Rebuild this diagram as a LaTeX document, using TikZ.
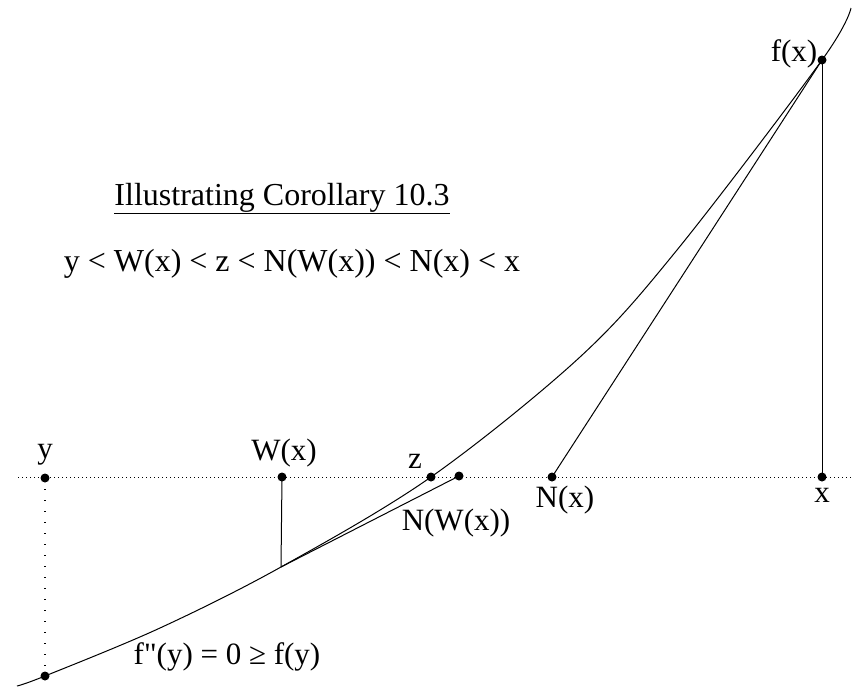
\documentclass[tikz,border=0pt]{standalone}
\usepackage{fontspec}
\setmainfont{Liberation Serif}
\newfontfamily\rawserif{Liberation Serif}[Ligatures=TeXOff]
\begin{document}
\begin{tikzpicture}[x=1pt,y=-1pt,line width=1pt,
  dot/.style={circle,fill=black,inner sep=0pt,minimum size=9pt},
  lbl/.style={font=\fontsize{31}{36}\selectfont,anchor=base,inner sep=0pt},
  big/.style={font=\fontsize{32}{38}\selectfont,anchor=base,inner sep=0pt},
  axisdots/.style={line width=1pt,dash pattern=on 1pt off 3pt},
  vdots/.style={line width=1.2pt,dash pattern=on 1.2pt off 9.8pt}]
\useasboundingbox (0,0) rectangle (854,686);
% points
\node[dot] (y)   at (45,478) {};
\node[dot] (fy)  at (45,676) {};
\node[dot] (W)   at (282,477) {};
\coordinate (T) at (281,567);
\node[dot] (z)   at (431,477) {};
\node[dot] (NW)  at (459,476) {};
\node[dot] (N)   at (552,477) {};
\node[dot] (x)   at (822,477) {};
\node[dot] (fx)  at (822,60) {};
\coordinate (axL) at (18,477);
\coordinate (axR) at (854,477);
% axis
\draw[axisdots] (axL) -- (axR);
\draw[vdots] (y.center) -- (fy.center);
% curve
\draw plot[smooth,tension=0.55] coordinates {(17,686) (45,676) (160,628) (281,567) (431,477) (580,357) (677,250) (822,60) (851,8)};
% lines
\draw (fx.center) -- (x.center);
\draw (fx.center) -- (N.center);
\draw (W.center) -- (T);
\draw (T) -- (NW.center);
% labels
\node[lbl] (ly)  at (45,458) {y};
\node[lbl] (lW)  at (284,460) {W(x)};
\node[lbl] (lz)  at (415,468) {z};
\node[lbl] (lN)  at (565,507) {N(x)};
\node[lbl] (lNW) at (456,530) {N(W(x))};
\node[lbl] (lx)  at (822,502) {x};
\node[lbl] (lfx) at (794,61) {f(x)};
\node[lbl] (lfy) at (227,664) {{\rawserif f"(y)} = 0 ≥ f(y)};
\node[big] (title) at (282,205) {\underline{Illustrating Corollary 10.3}};
\node[big] (rel) at (292,271) {y < W(x) < z < N(W(x)) < N(x) < x};
\end{tikzpicture}
\end{document}
